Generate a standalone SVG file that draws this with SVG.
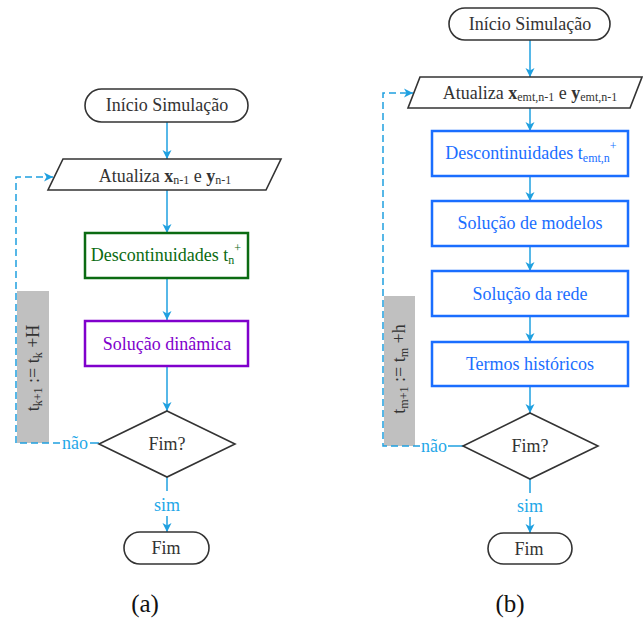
<svg xmlns="http://www.w3.org/2000/svg" width="643" height="622" viewBox="0 0 643 622">
<defs>
<marker id="arr" markerUnits="userSpaceOnUse" markerWidth="10" markerHeight="10" refX="9" refY="5" orient="auto">
<path d="M0,0.5 L9,5 L0,9.5 L2.5,5 z" fill="#1fa0e0"/>
</marker>
<style>
text{font-family:"Liberation Serif","Times New Roman",serif;font-size:18px;fill:#333;text-anchor:middle}
.blk{fill:#fff;stroke:#333;stroke-width:1.6}
.grn{fill:#fff;stroke:#0b6b12;stroke-width:2.5}
.pur{fill:#fff;stroke:#8000cc;stroke-width:2.5}
.blu{fill:#fff;stroke:#1a6eff;stroke-width:2.5}
.gt{fill:#0b6b12}
.pt{fill:#8000cc}
.bt{fill:#1a6eff}
.ct{fill:#1fa8e8}
.sub{font-size:12px}
.c{fill:none;stroke:#1fa0e0;stroke-width:1.5}
.d{fill:none;stroke:#1fa0e0;stroke-width:1.5;stroke-dasharray:7,4}
.gray{fill:#c0c0c0}
.cap{font-size:25px;fill:#111}
</style>
</defs>

<!-- gray label boxes -->
<g id="label-a">
<rect class="gray" x="17" y="291" width="32" height="152"/>
<text transform="translate(39,368) rotate(-90)">t<tspan class="sub" dy="3">k+1</tspan><tspan dy="-3"> := t</tspan><tspan class="sub" dy="3">k</tspan><tspan dy="-3"> +H</tspan></text>
</g>
<g id="label-b">
<rect class="gray" x="384" y="296" width="31" height="150"/>
<text transform="translate(405,369) rotate(-90)">t<tspan class="sub" dy="3">m+1</tspan><tspan dy="-3"> := t</tspan><tspan class="sub" dy="3">m</tspan><tspan dy="-3"> +h</tspan></text>
</g>

<g id="connectors">
<!-- (a) -->
<line class="c" x1="167" y1="122" x2="167" y2="159" marker-end="url(#arr)"/>
<line class="c" x1="167" y1="190" x2="167" y2="233" marker-end="url(#arr)"/>
<line class="c" x1="167" y1="278" x2="167" y2="320" marker-end="url(#arr)"/>
<line class="c" x1="167" y1="366" x2="167" y2="411" marker-end="url(#arr)"/>
<line class="c" x1="167" y1="477" x2="167" y2="491"/>
<line class="c" x1="167" y1="516" x2="167" y2="532" marker-end="url(#arr)"/>
<line class="c" x1="99" y1="443" x2="90" y2="443"/>
<path class="d" d="M60,443 H16 V177 H53" marker-end="url(#arr)"/>
<!-- (b) -->
<line class="c" x1="530" y1="40" x2="530" y2="77" marker-end="url(#arr)"/>
<line class="c" x1="530" y1="108" x2="530" y2="131" marker-end="url(#arr)"/>
<line class="c" x1="530" y1="176" x2="530" y2="201" marker-end="url(#arr)"/>
<line class="c" x1="530" y1="246" x2="530" y2="271" marker-end="url(#arr)"/>
<line class="c" x1="530" y1="316" x2="530" y2="342" marker-end="url(#arr)"/>
<line class="c" x1="530" y1="386" x2="530" y2="413" marker-end="url(#arr)"/>
<line class="c" x1="530" y1="479" x2="530" y2="493"/>
<line class="c" x1="530" y1="517" x2="530" y2="533" marker-end="url(#arr)"/>
<line class="c" x1="463" y1="446" x2="448" y2="446"/>
<path class="d" d="M420,446 H383 V93 H413" marker-end="url(#arr)"/>
<text class="ct" x="75" y="449">não</text>
<text class="ct" x="167" y="511">sim</text>
<text class="ct" x="434" y="452">não</text>
<text class="ct" x="530" y="512">sim</text>
</g>

<!-- (a) nodes -->
<g id="a-inicio">
<rect class="blk" x="85" y="89" width="163" height="33" rx="16.5"/>
<text x="167" y="111">Início Simulação</text>
</g>
<g id="a-atualiza">
<polygon class="blk" points="63,159 281,159 266,190 48,190"/>
<text x="165" y="182">Atualiza <tspan font-weight="bold">x</tspan><tspan class="sub" dy="2">n-1</tspan><tspan dy="-2"> e </tspan><tspan font-weight="bold">y</tspan><tspan class="sub" dy="2">n-1</tspan></text>
</g>
<g id="a-descont">
<rect class="grn" x="85" y="233" width="163" height="45"/>
<text class="gt" x="166" y="261">Descontinuidades t<tspan class="sub" dy="3">n</tspan><tspan class="sub" dy="-12">+</tspan></text>
</g>
<g id="a-solucao">
<rect class="pur" x="85" y="321" width="163" height="45"/>
<text class="pt" x="167" y="350">Solução dinâmica</text>
</g>
<g id="a-fim-q">
<polygon class="blk" points="167,411 235,444 167,477 99,444"/>
<text x="167" y="450">Fim?</text>
</g>
<g id="a-fim">
<rect class="blk" x="124" y="532" width="85" height="32" rx="16"/>
<text x="166" y="554">Fim</text>
</g>

<!-- (b) nodes -->
<g id="b-inicio">
<rect class="blk" x="449" y="8" width="161" height="32" rx="16"/>
<text x="530" y="30">Início Simulação</text>
</g>
<g id="b-atualiza">
<polygon class="blk" points="420,77 642,77 630,108 408,108"/>
<text x="530" y="99">Atualiza <tspan font-weight="bold">x</tspan><tspan class="sub" dy="2">emt,n-1</tspan><tspan dy="-2"> e </tspan><tspan font-weight="bold">y</tspan><tspan class="sub" dy="2">emt,n-1</tspan></text>
</g>
<g id="b-descont">
<rect class="blu" x="432" y="131" width="196" height="45"/>
<text class="bt" x="531" y="159">Descontinuidades t<tspan class="sub" dy="3">emt,n</tspan><tspan class="sub" dy="-12">+</tspan></text>
</g>
<g id="b-modelos">
<rect class="blu" x="432" y="201" width="196" height="45"/>
<text class="bt" x="530" y="229">Solução de modelos</text>
</g>
<g id="b-rede">
<rect class="blu" x="432" y="271" width="196" height="45"/>
<text class="bt" x="530" y="300">Solução da rede</text>
</g>
<g id="b-historicos">
<rect class="blu" x="432" y="342" width="196" height="44"/>
<text class="bt" x="530" y="370">Termos históricos</text>
</g>
<g id="b-fim-q">
<polygon class="blk" points="530,413 598,446 530,479 463,446"/>
<text x="530" y="452">Fim?</text>
</g>
<g id="b-fim">
<rect class="blk" x="488" y="533" width="84" height="31" rx="15.5"/>
<text x="529" y="555">Fim</text>
</g>

<text class="cap" x="145" y="612">(a)</text>
<text class="cap" x="510" y="612">(b)</text>
</svg>
